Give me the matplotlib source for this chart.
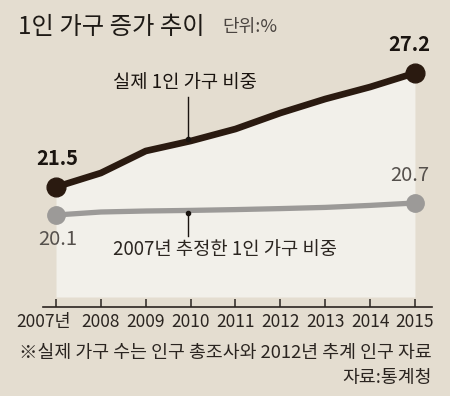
import numpy as np
import matplotlib
matplotlib.use('Agg')
import matplotlib.pyplot as plt
import matplotlib.transforms as mtrans

plt.rcParams['font.family'] = ['Noto Sans CJK KR', 'DejaVu Sans']

years = [2007, 2008, 2009, 2010, 2011, 2012, 2013, 2014, 2015]
year_labels = ['2007년', '2008', '2009', '2010', '2011', '2012', '2013', '2014', '2015']
actual = [21.5, 22.2, 23.3, 23.8, 24.4, 25.2, 25.9, 26.5, 27.2]
projected = [20.1, 20.25, 20.3, 20.33, 20.37, 20.42, 20.48, 20.58, 20.7]

bg = '#e4ddd0'
fillc = '#f2f0ea'
dark = '#2a1a10'
grey = '#9c9a98'

fig = plt.figure(figsize=(4.5, 3.96), dpi=100)
fig.patch.set_facecolor(bg)
ax = fig.add_axes([43/450, (396-307)/396, (432-43)/450, 307/396])
ax.set_facecolor(bg)
ax.set_xlim(2006.71, 2015.38)
ax.set_ylim(15.5, 30.85)

ax.fill_between(years, actual, 16.0, color=fillc, lw=0, zorder=1)
ax.plot(years, projected, color=grey, lw=3.8, solid_capstyle='round', zorder=2)
ax.plot([years[0], years[-1]], [projected[0], projected[-1]], 'o', color=grey, ms=12.5, zorder=3)
ax.plot(years, actual, color=dark, lw=4.8, solid_capstyle='round', zorder=4)
ax.plot([years[0], years[-1]], [actual[0], actual[-1]], 'o', color=dark, ms=13.5, zorder=5)

# value labels
ax.annotate(f'{actual[0]}', (years[0], actual[0]), xytext=(1, 13), textcoords='offset points',
            ha='center', va='bottom', fontsize=14.5, fontweight='bold', color='#1a1410')
ax.annotate(f'{actual[-1]}', (years[-1], actual[-1]), xytext=(-4, 13), textcoords='offset points',
            ha='center', va='bottom', fontsize=14.5, fontweight='bold', color='#1a1410')
ax.annotate(f'{projected[0]}', (years[0], projected[0]), xytext=(1, -10), textcoords='offset points',
            ha='center', va='top', fontsize=14.5, color='#55504c')
ax.annotate(f'{projected[-1]}', (years[-1], projected[-1]), xytext=(-4, 12), textcoords='offset points',
            ha='center', va='bottom', fontsize=14.5, color='#55504c')

# series callouts (vertical leaders)
xa = 2009.94
ya = np.interp(xa, years, actual) + 0.15
ax.plot([xa, xa], [ya, 26.0], color='#1a1410', lw=1.0, zorder=6)
ax.plot([xa], [ya], 'o', color='#1a1410', ms=3, zorder=6)
ax.text(2008.27, 26.75, '실제 1인 가구 비중', ha='left', va='center', fontsize=13.5, color='#1a1410')
yp = np.interp(xa, years, projected) - 0.15
ax.plot([xa, xa], [yp, 19.05], color='#1a1410', lw=1.0, zorder=6)
ax.plot([xa], [yp], 'o', color='#1a1410', ms=3, zorder=6)
ax.text(2008.27, 18.35, '2007년 추정한 1인 가구 비중', ha='left', va='center', fontsize=13.5, color='#2b2520')

for s in ['top', 'left', 'right']:
    ax.spines[s].set_visible(False)
ax.spines['bottom'].set_color('#2a2420')
ax.spines['bottom'].set_linewidth(1.2)
ax.set_yticks([])
ax.set_xticks(years)
ax.set_xticklabels(year_labels)
ax.tick_params(axis='x', direction='in', length=6, width=1.1, color='#2a2420',
               labelsize=12.5, labelcolor='#2a2420', pad=4)
first = ax.get_xticklabels()[0]
first.set_transform(first.get_transform() + mtrans.ScaledTranslation(-12/100, 0, fig.dpi_scale_trans))

fig.text(18/450, 1 - 27/396, '1인 가구 증가 추이', fontsize=17.5, color='#1e1a16', va='center', ha='left')
fig.text(222/450, 1 - 27/396, '단위:%', fontsize=13, color='#4a4440', va='center', ha='left')
fig.text(432/450, 1 - 353/396, '※실제 가구 수는 인구 총조사와 2012년 추계 인구 자료',
         fontsize=13.2, color='#2a2420', va='center', ha='right')
fig.text(432/450, 1 - 378/396, '자료:통계청', fontsize=13.2, color='#2a2420', va='center', ha='right')

fig.savefig('out.png', dpi=100, facecolor=bg)
